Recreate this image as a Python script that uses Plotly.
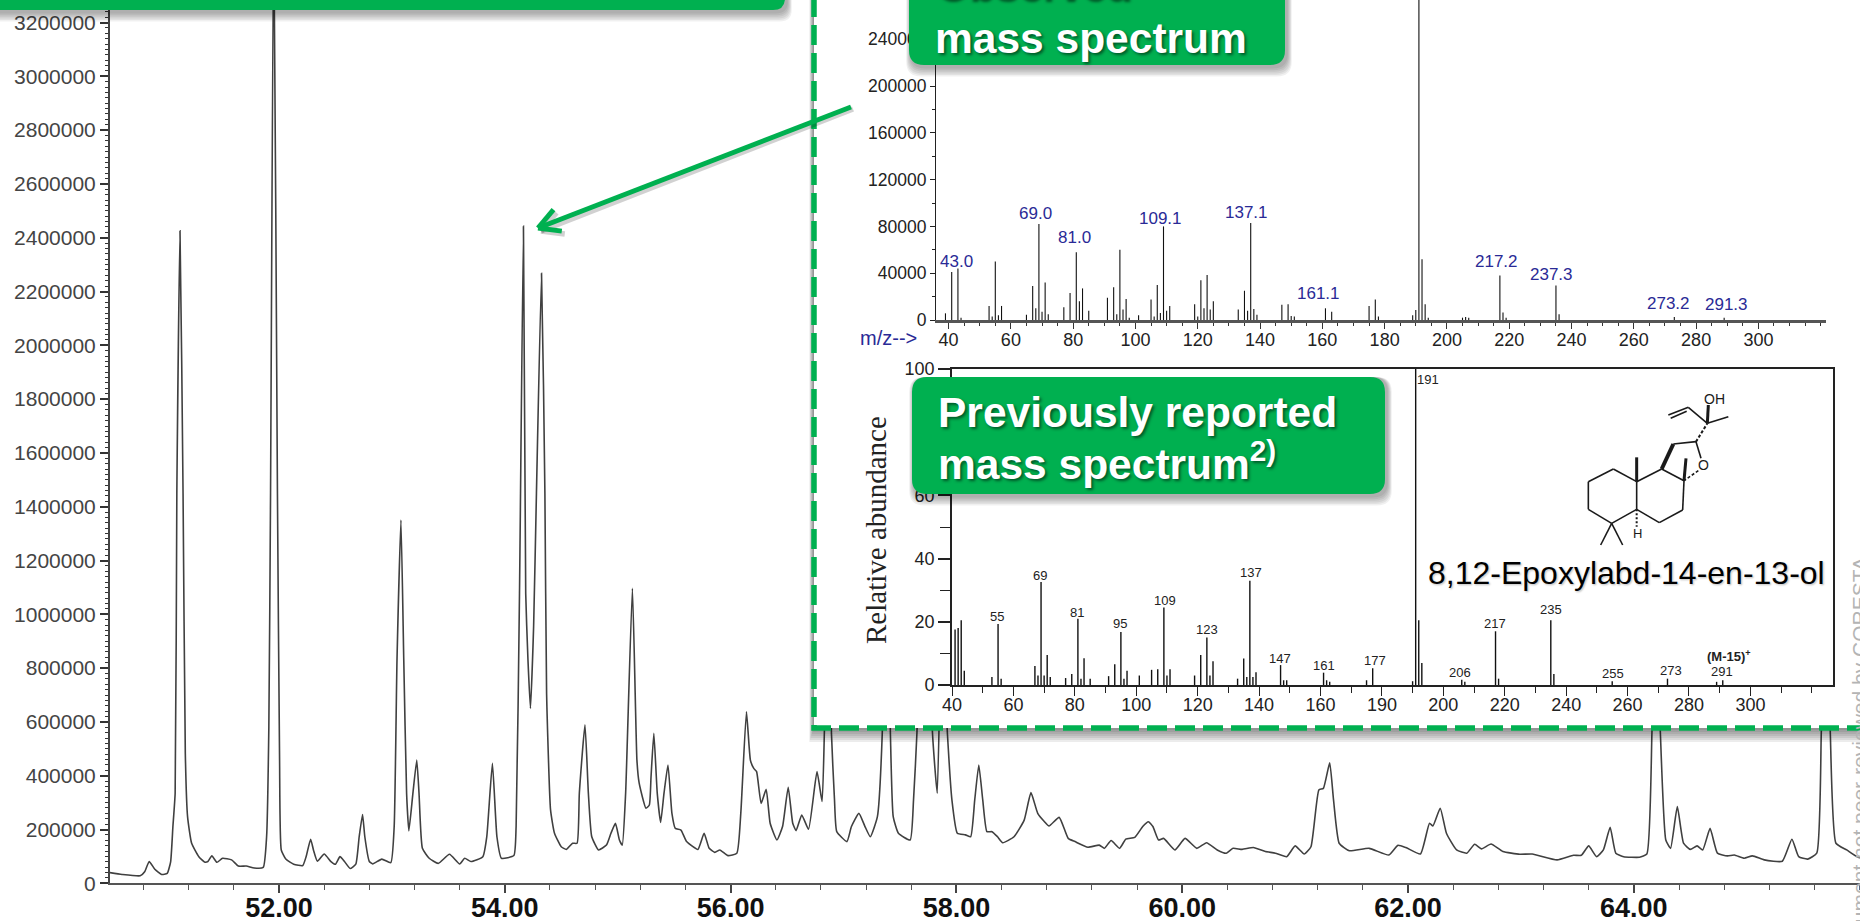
import math
import plotly.graph_objects as go

W, H = 1860, 921

# ---- data ----
rt = [50.50,50.61,50.77,50.81,50.85,50.90,50.96,51.01,51.04,51.06,51.08,51.095,51.123,51.15,51.17,51.19,51.226,51.29,51.34,51.37,51.405,51.45,51.50,51.58,51.64,51.71,51.78,51.86,51.89,51.91,51.925,51.953,51.986,52.005,52.02,52.06,52.13,52.21,52.24,52.28,52.305,52.34,52.40,52.46,52.50,52.54,52.58,52.63,52.68,52.71,52.74,52.76,52.80,52.83,52.91,52.99,53.02,53.045,53.08,53.105,53.13,53.15,53.186,53.22,53.24,53.27,53.33,53.41,53.51,53.60,53.645,53.70,53.805,53.84,53.89,53.93,53.97,54.08,54.10,54.13,54.165,54.185,54.205,54.227,54.255,54.28,54.325,54.355,54.37,54.405,54.44,54.50,54.545,54.60,54.64,54.66,54.71,54.74,54.77,54.83,54.90,54.94,54.98,55.015,55.04,55.07,55.13,55.17,55.19,55.25,55.28,55.295,55.32,55.35,55.38,55.41,55.445,55.48,55.51,55.56,55.61,55.71,55.765,55.81,55.86,55.905,55.975,56.055,56.09,56.14,56.175,56.205,56.23,56.27,56.315,56.35,56.41,56.46,56.51,56.55,56.58,56.63,56.69,56.765,56.81,56.83,56.863,56.893,56.92,56.94,57.03,57.07,57.136,57.19,57.237,57.30,57.343,57.373,57.415,57.44,57.486,57.59,57.62,57.65,57.72,57.788,57.83,57.87,57.92,57.96,58.008,58.08,58.126,58.162,58.198,58.233,58.27,58.316,58.364,58.41,58.51,58.60,58.66,58.72,58.78,58.82,58.91,58.99,59.05,59.165,59.265,59.31,59.37,59.445,59.50,59.58,59.65,59.70,59.74,59.79,59.835,59.935,60.025,60.13,60.215,60.31,60.39,60.45,60.53,60.63,60.737,60.825,60.925,61.0,61.08,61.14,61.21,61.25,61.306,61.34,61.39,61.48,61.655,61.83,61.91,61.98,62.11,62.19,62.22,62.285,62.34,62.43,62.52,62.59,62.65,62.735,62.84,62.99,63.10,63.32,63.465,63.535,63.60,63.67,63.73,63.79,63.84,63.91,64.05,64.115,64.16,64.195,64.235,64.283,64.325,64.385,64.44,64.50,64.56,64.61,64.675,64.74,64.83,64.89,64.977,65.05,65.155,65.315,65.40,65.46,65.54,65.62,65.66,65.70,65.74,65.79,65.885,65.985,66.2]
abundance_k = [40,33,28,43,81,52,33,37,80,210,335,1450,2426,1450,483,248,149,99,79,81,102,78,93,87,64,64,57,59,173,582,1450,3600,1450,458,124,90,71,66,99,164,124,82,109,81,71,99,81,55,71,173,256,173,81,72,90,77,211,830,1350,830,335,195,335,458,335,130,93,74,108,72,93,81,99,173,446,173,93,103,211,1078,2443,1078,830,650,954,1450,2268,1450,706,273,186,136,126,149,149,335,589,335,173,124,142,186,223,161,142,335,1097,458,372,279,291,396,558,335,226,335,440,260,204,198,155,126,186,130,115,124,103,112,260,638,458,427,415,297,349,223,161,211,357,223,196,254,201,415,304,558,1400,558,310,192,155,211,260,211,173,248,558,1500,558,248,186,161,310,558,1600,558,335,1000,558,310,186,180,173,310,440,310,192,192,173,151,173,235,337,260,229,213,245,167,155,134,142,130,159,130,164,171,211,229,211,161,167,124,167,130,151,124,112,130,126,133,118,112,99,139,109,136,347,353,448,310,149,121,130,105,141,133,109,223,213,279,186,124,112,145,128,146,118,108,109,87,104,104,139,99,124,208,112,99,97,109,558,1200,558,161,130,285,149,126,139,124,204,112,102,105,93,102,87,82,164,99,90,112,558,1500,558,149,124,97,90]
rt_ticks = [52, 54, 56, 58, 60, 62, 64]
rt_tick_text = ["52.00", "54.00", "56.00", "58.00", "60.00", "62.00", "64.00"]

obs_mz = [39,41,43,44,53,54,55,56,57,65,67,68,69,70,71,72,77,79,81,82,83,85,91,93,94,95,96,97,98,101,105,106,107,108,109,110,111,119,120,121,122,123,124,125,133,135,136,137,138,139,147,149,150,151,161,163,175,177,178,189,190,191,192,193,194,205,206,207,217,218,219,235,236,273,289]
obs_int = [5700,41000,44000,2000,12000,3000,50000,4000,12000,4500,29000,10000,82000,7000,32000,5000,11000,23000,58000,16000,27000,8000,19000,28000,5000,60000,9000,18000,2000,4000,17500,3000,30000,6000,80000,8000,12000,13500,3000,34000,10000,38500,9000,16000,9000,25000,8000,83000,9500,4500,13000,13500,3500,3000,10000,7000,12000,17500,3000,4000,8500,300000,52000,13500,2000,2000,2500,2000,38000,6500,2000,29500,5000,2500,2000]
obs_labels = ["43.0","69.0","81.0","109.1","137.1","161.1","217.2","237.3","273.2","291.3"]
obs_label_mz = [42.4,68,80.4,108,135.7,158.9,215.9,233.5,271.2,289.7]
obs_label_int = [50000,91400,70900,87100,92000,22300,50000,39100,13700,13400]
obs_x_ticks = [40,60,80,100,120,140,160,180,200,220,240,260,280,300]

rep_mz = [41,42,43,44,53,55,56,67,68,69,70,71,72,77,79,81,82,83,85,91,93,95,96,97,101,105,107,109,110,111,119,121,123,124,125,133,135,136,137,138,139,147,148,149,161,162,163,175,177,190,191,192,193,206,207,217,218,235,236,255,273,289,291]
rep_rel = [17.6,18,20.5,4.5,2.5,19.3,2,6,3,32.6,3,9.5,2.5,2.2,3.5,21,2,8.5,2,2.8,6.6,16.8,2,4.5,3,4.8,5,24.5,3,5,3,9.5,15,3,7.5,2,8.4,2.5,33,2.5,4,6.3,1.5,1.5,3.9,1.5,1,1.5,5.3,1.2,100,20.5,7,1.7,1,17,2,20.5,3.5,1.2,2,1,1.5]
rep_labels = ["55","69","81","95","109","123","137","147","161","177","191","206","217","235","255","273","291","<b>(M-15)<sup>+</sup></b>"]
rep_label_mz = [54.8,68.6,80.6,94.7,109.4,122.9,137.5,146.9,161,177.6,194.9,205.5,216.7,235.2,255.3,274.2,290.8,293]
rep_label_rel = [21.6,34.7,22.8,19.5,26.8,17.6,35.6,8.4,6.3,7.9,96.8,3.9,19.5,24,3.7,4.5,4.2,9.2]
rep_x_ticks = [40,60,80,100,120,140,160,180,200,220,240,260,280,300]
rep_x_text = ["40","60","80","100","120","140","160","190","200","220","240","260","280","300"]

GREEN = "#00B050"
SANS = "Liberation Sans, Arial, sans-serif"

def dx(a, b):
    return [a / W, b / W]

def dy(top, bottom):
    return [1 - bottom / H, 1 - top / H]

def stems(xs, ys):
    sx, sy = [], []
    for a, b in zip(xs, ys):
        sx += [a, a, None]
        sy += [0, b, None]
    return sx, sy

fig = go.Figure()

# main chromatogram
fig.add_trace(go.Scatter(x=rt, y=[v * 1000 for v in abundance_k], mode="lines", xaxis="x", yaxis="y",
                         line=dict(color="#404040", width=1.6, shape="spline", smoothing=0.45),
                         hoverinfo="skip", showlegend=False))

# white panel with soft shadow (hidden pixel-scaled subplot)
edge_x, edge_y = 814, 728
for i in range(7):
    grow = 2 + i * 2
    fig.add_trace(go.Scatter(x=[edge_x - grow / 3, W + 50, W + 50, edge_x - grow / 3, edge_x - grow / 3],
                             y=[-50, -50, edge_y + grow, edge_y + grow, -50],
                             mode="lines", fill="toself", fillcolor="rgba(0,0,0,0.075)", line=dict(width=0),
                             xaxis="x2", yaxis="y2", hoverinfo="skip", showlegend=False))
fig.add_trace(go.Scatter(x=[edge_x, W + 50, W + 50, edge_x, edge_x], y=[-50, -50, edge_y, edge_y, -50],
                         mode="lines", fill="toself", fillcolor="white", line=dict(width=0),
                         xaxis="x2", yaxis="y2", hoverinfo="skip", showlegend=False))
fig.add_trace(go.Scatter(x=[edge_x, edge_x, W + 20], y=[-3, edge_y, edge_y], mode="lines",
                         line=dict(color=GREEN, width=5.5, dash="20px,8px"),
                         xaxis="x2", yaxis="y2", hoverinfo="skip", showlegend=False))

# observed spectrum
sx, sy = stems(obs_mz, obs_int)
fig.add_trace(go.Scatter(x=sx, y=sy, mode="lines", line=dict(color="#111111", width=1.1),
                         xaxis="x3", yaxis="y3", hoverinfo="skip", showlegend=False))
# reported spectrum
sx, sy = stems(rep_mz, rep_rel)
fig.add_trace(go.Scatter(x=sx, y=sy, mode="lines", line=dict(color="#111111", width=1.4),
                         xaxis="x4", yaxis="y4", hoverinfo="skip", showlegend=False))

annotations = []

def text(t, x, y, size, color="#000", anchor="left", vanchor="middle", family=SANS, shadow=None, angle=0):
    f = dict(size=size, color=color, family=family)
    if shadow:
        f["shadow"] = shadow
    annotations.append(dict(text=t, x=x / W, y=1 - y / H, xref="paper", yref="paper", xanchor=anchor,
                            yanchor=vanchor, showarrow=False, font=f, textangle=angle, align="left",
                            borderpad=0, borderwidth=0))

for t, m, v in zip(obs_labels, obs_label_mz, obs_label_int):
    annotations.append(dict(text=t, x=m, y=v, xref="x3", yref="y3", showarrow=False,
                            font=dict(size=17, color="#2a2a96", family=SANS)))
for t, m, v in zip(rep_labels, rep_label_mz, rep_label_rel):
    annotations.append(dict(text=t, x=m, y=v, xref="x4", yref="y4", showarrow=False,
                            font=dict(size=13, color="#222", family=SANS)))

text("m/z--&gt;", 888, 338, 20, "#2a2a96", "center")
text("Relative abundance", 876, 530, 29, "#222", "center", family="Liberation Serif, serif", angle=-90)

shapes = []

def pline(x0, y0, x1, y1, color, width):
    shapes.append(dict(type="line", xref="paper", yref="paper", layer="above", line=dict(color=color, width=width),
                       x0=x0 / W, y0=1 - y0 / H, x1=x1 / W, y1=1 - y1 / H))

def arrow(x0, y0, x1, y1, color, width, head=24):
    ang = math.atan2(y0 - y1, x0 - x1)
    pline(x0, y0, x1, y1, color, width)
    for d in (-0.5, 0.5):
        pline(x1, y1, x1 + head * math.cos(ang + d), y1 + head * math.sin(ang + d), color, width)

arrow(853, 109, 541, 231, "rgba(0,0,0,0.18)", 5.5)
arrow(851, 107, 538, 228, GREEN, 5)

# banners
def round_rect(x0, y0, x1, y1, r):
    X = lambda v: v / W
    Y = lambda v: 1 - v / H
    return (f"M {X(x0 + r)} {Y(y0)} L {X(x1 - r)} {Y(y0)} Q {X(x1)} {Y(y0)} {X(x1)} {Y(y0 + r)} "
            f"L {X(x1)} {Y(y1 - r)} Q {X(x1)} {Y(y1)} {X(x1 - r)} {Y(y1)} "
            f"L {X(x0 + r)} {Y(y1)} Q {X(x0)} {Y(y1)} {X(x0)} {Y(y1 - r)} "
            f"L {X(x0)} {Y(y0 + r)} Q {X(x0)} {Y(y0)} {X(x0 + r)} {Y(y0)} Z")

def banner(x0, y0, x1, y1, r=15):
    for i in range(6, 0, -1):
        g = i * 1.6
        shapes.append(dict(type="path", xref="paper", yref="paper", layer="above",
                           path=round_rect(x0 + 2 - g / 2, y0, x1 + 2 + g / 2, y1 + 2 + g, r),
                           fillcolor="rgba(0,0,0,0.06)", line=dict(width=0)))
    shapes.append(dict(type="path", xref="paper", yref="paper", layer="above",
                       path=round_rect(x0, y0, x1, y1, r), fillcolor=GREEN, line=dict(width=0)))

banner(-30, -40, 785, 10, 12)
banner(909, -40, 1285, 65)
banner(912, 377, 1385, 494)

WHITE_SHADOW = "2px 2px 3px rgba(0,0,0,0.5)"
text("<b>Observed</b>", 935, -14, 42.5, "white", shadow=WHITE_SHADOW)
text("<b>mass spectrum</b>", 935, 38, 42.5, "white", shadow=WHITE_SHADOW)
text("<b>Previously reported</b>", 938, 412, 42.5, "white", shadow=WHITE_SHADOW)
text("<b>mass spectrum<sup>2)</sup></b>", 938, 461, 42.5, "white", shadow=WHITE_SHADOW)
text("8,12-Epoxylabd-14-en-13-ol", 1626, 573, 32, "#000", "center",
     shadow="0 0 3px white, 1px 1px 2px rgba(0,0,0,0.35)")
text("document not peer-reviewed by CORESTA", 1859, 557, 21, "#b4b4b4", "center", "top", angle=-90)

# molecule drawing (in reference-crop pixels, origin 1560,370, scale 1/3)
def bond(a, b, c, d, w=1.6, dash=None):
    line = dict(color="#1a1a1a", width=w)
    if dash:
        line["dash"] = dash
    shapes.append(dict(type="line", xref="paper", yref="paper", layer="above", line=line,
                       x0=(1560 + a / 3) / W, y0=1 - (370 + b / 3) / H,
                       x1=(1560 + c / 3) / W, y1=1 - (370 + d / 3) / H))

ring = [(85,335),(160,297),(230,335),(230,418),(155,460),(85,418),(85,335)]
ring2 = [(230,335),(305,297),(372,332),(368,420),(298,458),(230,418)]
for path in (ring, ring2):
    for p, q in zip(path[:-1], path[1:]):
        bond(p[0], p[1], q[0], q[1])
bond(230,335,230,262,3)
bond(372,332,378,265,3)
bond(155,460,122,525)
bond(155,460,188,525)
bond(230,418,230,470,2,"2px,2px")
bond(305,297,340,222,4)
bond(340,222,408,215)
bond(408,215,423,265)
bond(415,302,372,332,1.6,"3px,2px")
bond(408,215,442,160,2,"3px,2px")
bond(442,160,385,112)
bond(385,112,325,135)
bond(380,124,332,145)
bond(442,160,505,140)
bond(442,160,445,105,3)
text("OH", 1560 + 462 / 3, 370 + 88 / 3, 14, "#1a1a1a", "center")
text("H", 1560 + 232 / 3, 370 + 490 / 3, 13, "#1a1a1a", "center")
text("O", 1560 + 430 / 3, 370 + 285 / 3, 14, "#1a1a1a", "center")

axis_main = dict(showgrid=False, zeroline=False, ticks="outside", showline=True)

fig.update_layout(
    width=W, height=H, autosize=False, margin=dict(l=0, r=0, t=0, b=0, autoexpand=False),
    paper_bgcolor="white", plot_bgcolor="rgba(0,0,0,0)", showlegend=False,
    font=dict(family=SANS),
    annotations=annotations, shapes=shapes,
    xaxis=dict(axis_main, domain=dx(110, W), range=[50.503, 66.003], anchor="y",
               tickvals=rt_ticks, ticktext=rt_tick_text, ticklen=8, tickwidth=1.5, tickcolor="#444",
               linecolor="#555", linewidth=2, ticklabelstandoff=-9,
               tickfont=dict(size=27, color="#111", family=SANS, weight="bold"),
               minor=dict(ticks="outside", dtick=0.4, tick0=50, ticklen=5, tickcolor="#555", tickwidth=1)),
    yaxis=dict(axis_main, domain=dy(0, 883.3), range=[0, 883.3 / 53.8 * 200000], anchor="x",
               tickmode="linear", tick0=0, dtick=200000, tickformat="d", ticklen=8, tickwidth=1.5, tickcolor="#333",
               linecolor="#444", linewidth=2,
               tickfont=dict(size=21, color="#444", family=SANS),
               minor=dict(ticks="outside", dtick=20000, ticklen=3, tickcolor="#333", tickwidth=1)),
    xaxis2=dict(visible=False, domain=dx(790, W), range=[790, W], anchor="y2"),
    yaxis2=dict(visible=False, domain=dy(0, 760), range=[760, 0], anchor="x2"),
    xaxis3=dict(axis_main, domain=dx(936, 1826), range=[35.96, 321.7], anchor="y3",
                tickvals=obs_x_ticks, ticklen=6, tickcolor="#333", linecolor="#555", linewidth=2.5,
                ticklabelstandoff=-4,
                tickfont=dict(size=18, color="#222", family=SANS),
                minor=dict(ticks="outside", dtick=5, tick0=0, ticklen=3, tickcolor="#333", tickwidth=1)),
    yaxis3=dict(axis_main, domain=dy(0, 320), range=[0, 273500], anchor="x3",
                tickmode="linear", tick0=0, dtick=40000, tickformat="d", ticklen=5, tickcolor="#222",
                linecolor="#222", linewidth=1,
                tickfont=dict(size=17.5, color="#222", family=SANS),
                minor=dict(ticks="outside", dtick=20000, ticklen=3, tickcolor="#222", tickwidth=1)),
    xaxis4=dict(axis_main, domain=dx(952, 1833), range=[40, 326.9], anchor="y4",
                tickvals=rep_x_ticks, ticktext=rep_x_text, ticklen=9, tickwidth=1.4, tickcolor="#222",
                linecolor="#222", linewidth=1.6, mirror=True, ticklabelstandoff=-6,
                tickfont=dict(size=18, color="#222", family=SANS),
                minor=dict(ticks="outside", dtick=10, tick0=0, ticklen=6, tickcolor="#222", tickwidth=1.2)),
    yaxis4=dict(axis_main, domain=dy(369, 685), range=[0, 100], anchor="x4",
                tickmode="linear", tick0=0, dtick=20, ticklen=12, tickwidth=1.5, tickcolor="#222",
                linecolor="#222", linewidth=1.6, mirror=True,
                tickfont=dict(size=18, color="#222", family=SANS),
                minor=dict(ticks="outside", dtick=10, ticklen=10, tickcolor="#222", tickwidth=1.2)),
)

fig.write_html("out.html", config={"displayModeBar": False},
               post_script="document.body.style.margin='0';document.body.style.overflow='hidden';")
